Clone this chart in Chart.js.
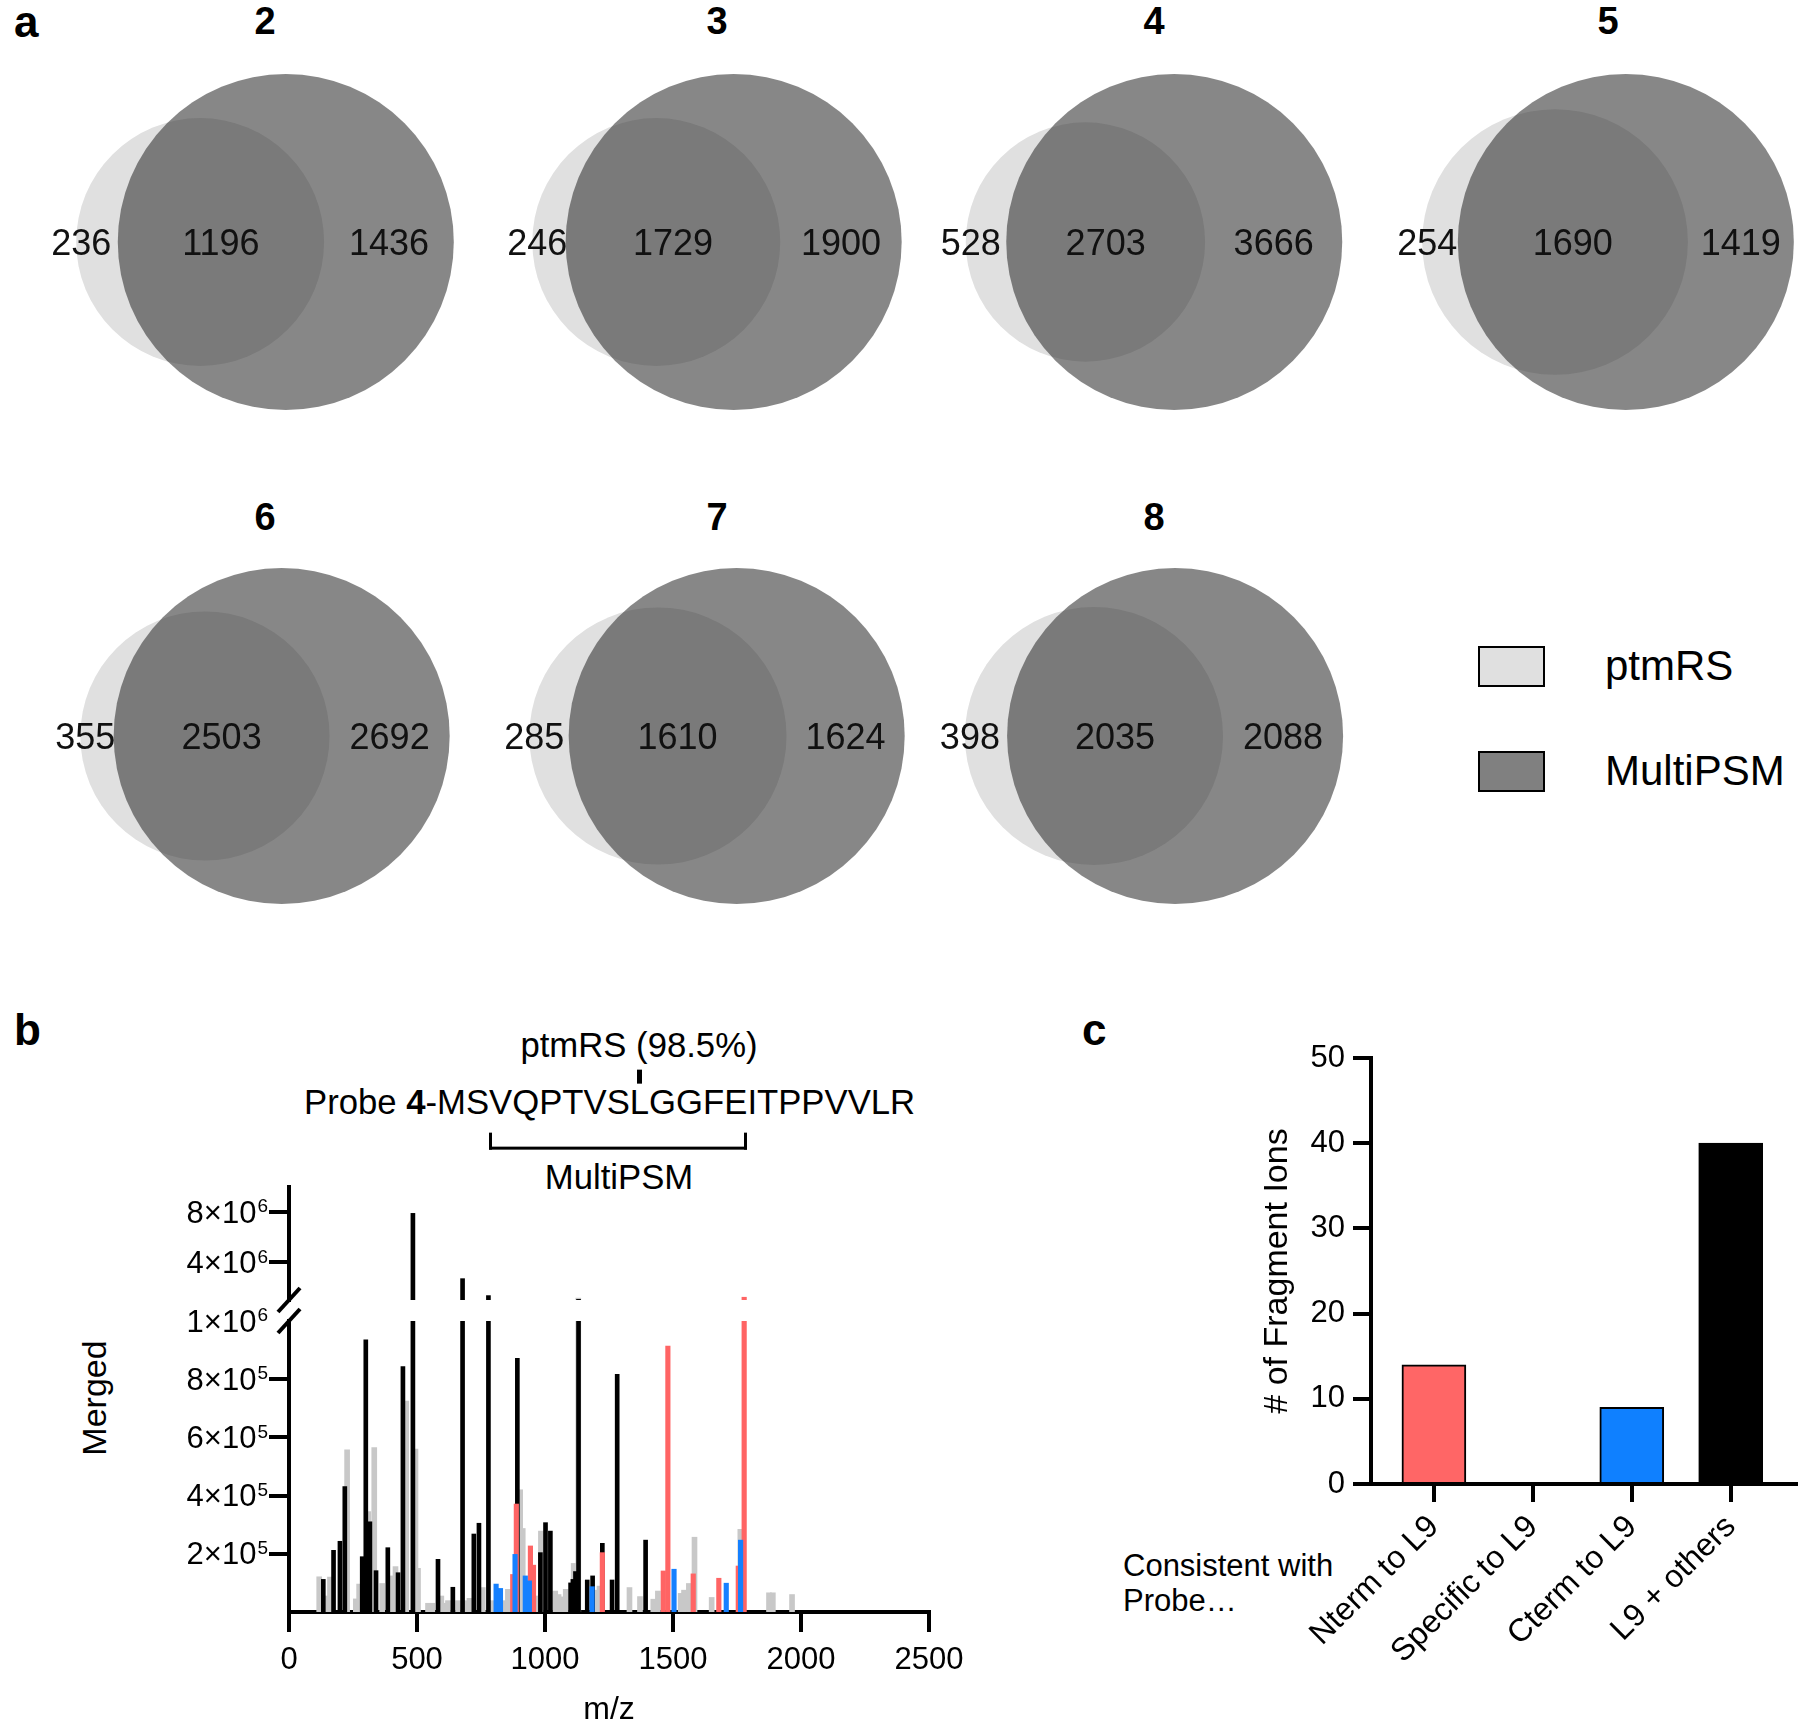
<!DOCTYPE html>
<html>
<head>
<meta charset="utf-8">
<script src="https://cdn.jsdelivr.net/npm/chart.js@4.4.1/dist/chart.umd.min.js"></script>
<style>
  body { margin:0; width:1800px; height:1725px; position:relative; overflow:hidden; background:#fff;
         font-family:"Liberation Sans", Arial, sans-serif; color:#000; }
  canvas { position:absolute; }
  .txt { position:absolute; white-space:nowrap; line-height:1; transform:translate(-50%,-50%); }
  .panel { position:absolute; font-weight:bold; font-size:44px; line-height:1; transform:translateY(-50%); }
  .vtitle { font-weight:bold; font-size:38px; }
  .seq { position:absolute; left:304px; top:1102px; font-size:34.7px; line-height:1; white-space:nowrap; transform:translateY(-50%); }
  .br { position:relative; }
  .br::after { content:''; position:absolute; left:0; right:0; top:50px; height:14px; border:3px solid #000; border-top:none; }
  .site { position:relative; }
  .site::before { content:''; position:absolute; left:7px; top:-13px; width:5px; height:14px; background:#000; }
  .key { position:absolute; width:63px; height:37px; border:2px solid #000; }
</style>
</head>
<body>
<div class="panel" style="left:14px;top:22px">a</div>
<div class="panel" style="left:14px;top:1030px">b</div>
<div class="panel" style="left:1082px;top:1030px">c</div>

<div class="key" style="left:1478px;top:646px;background:#e0e0e0"></div>
<div class="key" style="left:1478px;top:751px;background:#808080"></div>
<div class="txt" style="left:1605px;top:666px;font-size:42px;transform:translateY(-50%)">ptmRS</div>
<div class="txt" style="left:1605px;top:771px;font-size:42px;transform:translateY(-50%)">MultiPSM</div>

<div class="txt" style="left:639px;top:1045px;font-size:34.7px">ptmRS (98.5%)</div>
<div class="seq">Probe <b>4</b>-MS<span class="br">VQPTVS<span class="site">L</span>GGFE</span>ITPPVVLR</div>
<div class="txt" style="left:619px;top:1177px;font-size:34.7px">MultiPSM</div>
<div class="txt" style="left:94px;top:1398px;font-size:34px;transform:translate(-50%,-50%) rotate(-90deg)">Merged</div>

<div class="txt" style="left:1123px;top:1565px;font-size:31px;transform:translateY(-50%)">Consistent with</div>
<div class="txt" style="left:1123px;top:1600px;font-size:31px;transform:translateY(-50%)">Probe…</div>

<canvas id="specTop" width="829" height="160" style="left:140px;top:1160px"></canvas>
<canvas id="specLow" width="839" height="429" style="left:140px;top:1300px"></canvas>
<canvas id="frag" width="560" height="695" style="left:1240px;top:1030px"></canvas>

<script>
// ---- panel a: overlap counts per probe ----
const vennIds   = ['2', '3', '4', '5', '6', '7', '8'];
const ptmOnly   = [236, 246, 528, 254, 355, 285, 398];
const shared    = [1196, 1729, 2703, 1690, 2503, 1610, 2035];
const multiOnly = [1436, 1900, 3666, 1419, 2692, 1624, 2088];

// ---- panel b: merged spectrum (m/z, intensity) ----
const grayMz  = [118, 147, 160, 227, 261, 274, 310, 333, 364, 404, 416, 458, 494, 504, 543, 560, 595, 608, 621, 660,
                 692, 705, 757, 792, 842, 855, 865, 903, 913, 965, 984, 1040, 1053, 1066, 1081, 1112, 1130, 1200, 1213,
                 1330, 1371, 1423, 1441, 1530, 1543, 1562, 1584, 1651, 1763, 1875, 1890, 1965];
const grayInt = [1.21e5, 0.55e5, 1.2e5, 5.57e5, 0.45e5, 0.96e5, 3.45e5, 5.65e5, 0.98e5, 1.24e5, 1.56e5, 7.25e5, 5.6e5,
                 1.5e5, 0.3e5, 0.3e5, 0.55e5, 0.3e5, 0.39e5, 0.39e5, 0.39e5, 0.47e5, 0.84e5, 0.39e5, 0.39e5, 0.78e5,
                 0.39e5, 4.2e5, 2.87e5, 0.55e5, 2.78e5, 0.72e5, 0.6e5, 0.52e5, 0.78e5, 1.67e5, 1.15e6, 0.75e5, 0.89e5,
                 0.84e5, 0.53e5, 0.44e5, 0.72e5, 0.64e5, 0.75e5, 0.98e5, 2.57e5, 0.5e5, 2.84e5, 0.66e5, 0.66e5, 0.6e5];
const blackMz  = [134, 174, 199, 218, 286, 300, 316, 340, 386, 426, 445, 484, 582, 640, 678, 722, 742, 779, 892, 982,
                  1002, 1021, 1100, 1109, 1119, 1131, 1165, 1186, 1224, 1262, 1282, 1393];
const blackInt = [1.12e5, 2.12e5, 2.43e5, 4.31e5, 1.9e5, 9.35e5, 3.1e5, 1.42e5, 2.21e5, 1.35e5, 8.43e5, 7.9e6, 1.81e5,
                  0.85e5, 2.7e6, 2.68e5, 3.05e5, 1.35e6, 8.72e5, 2.04e5, 3.07e5, 2.78e5, 1.0e5, 1.12e5, 1.39e5, 1.05e6,
                  1.1e5, 1.24e5, 2.36e5, 1.1e5, 8.17e5, 2.47e5];
const redMz  = [874, 888, 943, 955, 1224, 1462, 1480, 1579, 1679, 1755, 1778];
const redInt = [1.29e5, 3.71e5, 2.27e5, 1.61e5, 2.04e5, 1.41e5, 9.14e5, 1.31e5, 1.16e5, 1.58e5, 1.22e6];
const blueMz  = [809, 826, 883, 923, 939, 1184, 1504, 1708, 1764];
const blueInt = [0.96e5, 0.81e5, 1.98e5, 1.24e5, 1.07e5, 0.87e5, 1.47e5, 0.99e5, 2.47e5];
const mzTicks = [0, 500, 1000, 1500, 2000, 2500];
const lowTicks = [2e5, 4e5, 6e5, 8e5, 1e6];
const highTicks = [4e6, 8e6];

// ---- panel c ----
const fragCats = ['Nterm to L9', 'Specific to L9', 'Cterm to L9', 'L9 + others'];
const fragCounts = [14, 0, 9, 40];

const FONT = '"Liberation Sans", Arial, sans-serif';
Chart.defaults.font.family = FONT;
Chart.defaults.color = '#000';

// layout of the venn panels (centre of each drawing)
const vennPos = [[265, 242], [717, 242], [1154, 242], [1608, 242], [265, 736], [717, 736], [1154, 736]];
const titleY = [21, 21, 21, 21, 517, 517, 517];
const BIG_R = 168, VW = 480, VH = 420;

function overlapArea(R, r, d) {
  if (d >= R + r) return 0;
  if (d <= R - r) return Math.PI * r * r;
  const a = r * r * Math.acos((d * d + r * r - R * R) / (2 * d * r));
  const b = R * R * Math.acos((d * d + R * R - r * r) / (2 * d * R));
  const c = 0.5 * Math.sqrt((-d + r + R) * (d + r - R) * (d - r + R) * (d + r + R));
  return a + b - c;
}
function centreDistance(R, r, target) {
  let lo = R - r, hi = R + r;
  for (let i = 0; i < 60; i++) {
    const mid = (lo + hi) / 2;
    if (overlapArea(R, r, mid) > target) lo = mid; else hi = mid;
  }
  return (lo + hi) / 2;
}

vennIds.forEach((id, i) => {
  const ptm = ptmOnly[i] + shared[i];
  const multi = multiOnly[i] + shared[i];
  const R = BIG_R, r = BIG_R * Math.sqrt(ptm / multi);
  const d = centreDistance(R, r, Math.PI * R * R * shared[i] / multi);
  const shift = -(d + R - r) / 2;
  const xs = shift, xb = d + shift;
  const counts = [
    { x: xs - r + 5, t: String(ptmOnly[i]) },
    { x: ((xb - R) + (xs + r)) / 2, t: String(shared[i]) },
    { x: ((xs + r) + (xb + R)) / 2, t: String(multiOnly[i]) }
  ];

  const [cx, cy] = vennPos[i];
  const t = document.createElement('div');
  t.className = 'txt vtitle';
  t.style.left = cx + 'px'; t.style.top = titleY[i] + 'px';
  t.textContent = id;
  document.body.appendChild(t);

  const cv = document.createElement('canvas');
  cv.width = VW; cv.height = VH;
  cv.style.left = (cx - VW / 2) + 'px'; cv.style.top = (cy - VH / 2) + 'px';
  document.body.appendChild(cv);

  const chart = new Chart(cv, {
    type: 'bubble',
    data: {
      datasets: [
        { label: 'ptmRS', data: [{ x: xs, y: 0, size: r }], backgroundColor: '#e0e0e0',
          borderWidth: 0, hoverRadius: 0, order: 2 },
        { label: 'MultiPSM', data: [{ x: xb, y: 0, size: R }], backgroundColor: 'rgba(48,48,48,0.58)',
          borderWidth: 0, hoverRadius: 0, order: 1 }
      ]
    },
    options: {
      responsive: false, animation: false, events: [],
      layout: { padding: 0, autoPadding: false },
      plugins: { legend: { display: false }, tooltip: { enabled: false } },
      scales: {
        x: { type: 'linear', display: false, min: -VW / 2, max: VW / 2 },
        y: { type: 'linear', display: false, min: -VH / 2, max: VH / 2 }
      }
    },
    plugins: [{
      id: 'counts',
      afterDatasetsDraw(ch) {
        const { ctx, scales: { x, y } } = ch;
        ctx.save();
        ctx.font = '36px ' + FONT;
        ctx.fillStyle = '#111';
        ctx.textAlign = 'center';
        ctx.textBaseline = 'middle';
        counts.forEach(c => ctx.fillText(c.t, x.getPixelForValue(c.x), y.getPixelForValue(0) + 3));
        ctx.restore();
      }
    }]
  });
  // bubble radius is in pixels: convert the circle size through the x scale
  const xScale = chart.scales.x;
  chart.data.datasets.forEach(ds => ds.data.forEach(p => {
    p.r = Math.abs(xScale.getPixelForValue(p.x + p.size) - xScale.getPixelForValue(p.x));
  }));
  chart.update();
});

// ---- panel b ----
const pts = (xs, ys) => xs.map((x, i) => ({ x: x, y: ys[i] }));
function specData() {
  return {
    datasets: [
      { data: pts(grayMz, grayInt), backgroundColor: '#c8c8c8', barThickness: 5, order: 4 },
      { data: pts(blackMz, blackInt), backgroundColor: '#000000', barThickness: 4, order: 3 },
      { data: pts(redMz, redInt), backgroundColor: '#ff6464', barThickness: 4.5, order: 2 },
      { data: pts(blueMz, blueInt), backgroundColor: '#1580ff', barThickness: 4.5, order: 1 }
    ].map(d => Object.assign(d, { grouped: false, clip: 0, borderWidth: 0 }))
  };
}
const axisGrid = { drawOnChartArea: false, drawTicks: true, tickLength: 20, lineWidth: 4, color: '#000', offset: false };
const axisBorder = { display: true, width: 4, color: '#000' };

// y tick labels as a×10^b with a raised exponent
const sciLabels = {
  id: 'sciLabels',
  afterDraw(chart) {
    const s = chart.scales.y, ctx = chart.ctx;
    ctx.save();
    ctx.fillStyle = '#000';
    ctx.textBaseline = 'middle';
    s.ticks.forEach(tk => {
      const v = tk.value;
      const e = Math.floor(Math.log10(v) + 1e-9);
      const m = Math.round(v / Math.pow(10, e));
      const yy = s.getPixelForValue(v);
      const supRight = s.right - 21;
      ctx.font = '19px ' + FONT;
      const sw = ctx.measureText(String(e)).width;
      ctx.textAlign = 'left';
      ctx.fillText(String(e), supRight - sw, yy - 5);
      ctx.font = '31px ' + FONT;
      ctx.textAlign = 'right';
      ctx.fillText(m + '×10', supRight - sw - 1, yy + 2);
    });
    ctx.restore();
  }
};
function breakMark(where) {
  return {
    id: 'break',
    afterDraw(chart) {
      const a = chart.chartArea, ctx = chart.ctx;
      const y = where === 'bottom' ? a.bottom : a.top;
      ctx.save();
      ctx.strokeStyle = '#000';
      ctx.lineWidth = 4;
      ctx.beginPath();
      ctx.moveTo(a.left - 11, y + 12);
      ctx.lineTo(a.left + 11, y - 12);
      ctx.stroke();
      ctx.restore();
    }
  };
}

new Chart(document.getElementById('specTop'), {
  type: 'bar',
  data: specData(),
  options: {
    responsive: false, animation: false, events: [],
    layout: { padding: { top: 27, bottom: 20, right: 40, left: 0 } },
    plugins: { legend: { display: false }, tooltip: { enabled: false } },
    scales: {
      x: { type: 'linear', display: false, min: 0, max: 2500, offset: false, grid: { offset: false } },
      y: {
        min: 1e6, max: 1e7,
        afterBuildTicks: s => { s.ticks = highTicks.map(v => ({ value: v })); },
        afterFit: s => { s.width = 149; },
        ticks: { display: false },
        grid: axisGrid, border: axisBorder
      }
    }
  },
  plugins: [sciLabels, breakMark('bottom')]
});

new Chart(document.getElementById('specLow'), {
  type: 'bar',
  data: specData(),
  options: {
    responsive: false, animation: false, events: [],
    layout: { padding: { top: 21, bottom: 0, right: 50, left: 0 } },
    plugins: { legend: { display: false }, tooltip: { enabled: false } },
    scales: {
      x: {
        type: 'linear', min: 0, max: 2500, offset: false,
        afterBuildTicks: s => { s.ticks = mzTicks.map(v => ({ value: v })); },
        afterFit: s => { s.height = 117; },
        ticks: { font: { size: 31 }, color: '#000', padding: 10, maxRotation: 0, callback: v => String(v) },
        grid: axisGrid, border: axisBorder,
        title: { display: true, text: 'm/z', font: { size: 32 }, color: '#000', padding: 0 }
      },
      y: {
        min: 0, max: 1e6,
        afterBuildTicks: s => { s.ticks = lowTicks.map(v => ({ value: v })); },
        afterFit: s => { s.width = 149; },
        ticks: { display: false },
        grid: Object.assign({}, axisGrid, { color: c => (c.tick && c.tick.value === 1e6) ? 'rgba(0,0,0,0)' : '#000' }),
        border: axisBorder
      }
    }
  },
  plugins: [sciLabels, breakMark('top')]
});

// ---- panel c ----
new Chart(document.getElementById('frag'), {
  type: 'bar',
  data: {
    datasets: [{
      data: fragCounts.map((v, i) => ({ x: i, y: v })),
      backgroundColor: ['#ff6666', '#999999', '#0f80ff', '#000000'],
      borderColor: '#000', borderWidth: 2, barThickness: 64
    }]
  },
  options: {
    responsive: false, animation: false, events: [],
    layout: { padding: { top: 28, right: 4, left: 0, bottom: 0 } },
    plugins: { legend: { display: false }, tooltip: { enabled: false } },
    scales: {
      x: {
        type: 'linear', min: -0.636, max: 3.66, offset: false,
        afterBuildTicks: s => { s.ticks = fragCats.map((_, i) => ({ value: i })); },
        afterFit: s => { s.height = 241; },
        ticks: { callback: v => fragCats[v], minRotation: 45, maxRotation: 45, autoSkip: false,
                 font: { size: 32 }, color: '#000', padding: 6 },
        grid: Object.assign({}, axisGrid, { tickLength: 18 }), border: axisBorder
      },
      y: {
        min: 0, max: 50,
        ticks: { stepSize: 10, font: { size: 31 }, color: '#000', padding: 8 },
        afterFit: s => { s.width = 131; },
        grid: Object.assign({}, axisGrid, { tickLength: 18 }), border: axisBorder,
        title: { display: true, text: '# of Fragment Ions', font: { size: 34 }, color: '#000', padding: { top: 17, bottom: 0 } }
      }
    }
  }
});
</script>
</body>
</html>
